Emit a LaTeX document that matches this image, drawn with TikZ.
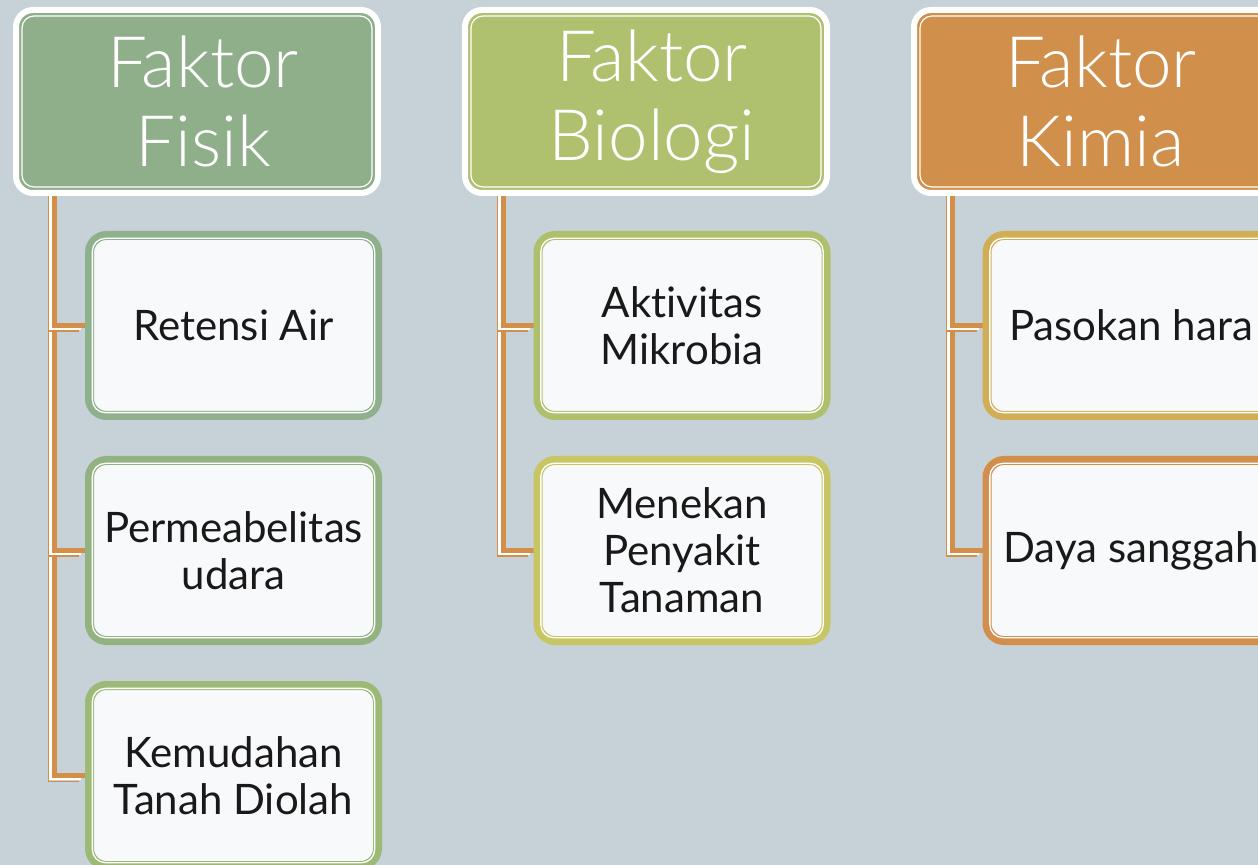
\documentclass[tikz,border=0pt]{standalone}
\usepackage{fontspec}
\setmainfont{Lato}[Ligatures=NoCommon]
\newfontfamily\hdrfont{Lato Light}[Ligatures=NoCommon]
\usetikzlibrary{calc}
\pgfdeclarelayer{bg}
\pgfdeclarelayer{conn}
\pgfsetlayers{bg,conn,main}
\definecolor{bgc}{HTML}{C6D1D8}
\definecolor{hA}{HTML}{8FAF8A}
\definecolor{hB}{HTML}{AFC06E}
\definecolor{hC}{HTML}{D08F4A}
\definecolor{lightfill}{HTML}{F8F9FB}
\definecolor{oc}{HTML}{D38F48}
\definecolor{bA1}{HTML}{8FB08C}
\definecolor{bA2}{HTML}{93B281}
\definecolor{bA3}{HTML}{9CBA75}
\definecolor{bB1}{HTML}{AFC06C}
\definecolor{bB2}{HTML}{C7C662}
\definecolor{bC1}{HTML}{D1AE56}
\definecolor{bC2}{HTML}{D18F4B}
\tikzset{
  hdr/.style={rectangle, rounded corners=8.5pt, minimum width=181pt, minimum height=91.5pt,
    draw=white, line width=3pt, fill=#1, text=white, align=center, inner sep=0pt,
    font=\hdrfont\fontsize{35.5}{39.5}\selectfont},
  childbox/.style={rectangle, rounded corners=8.5pt, minimum width=144pt, minimum height=90pt,
    draw=#1, line width=4.5pt, fill=lightfill, text=black!90, align=center, inner sep=0pt,
    font=\fontsize{21}{23.5}\selectfont},
  hline/.style={draw=white, line width=0.6pt, rounded corners=6pt},
  cline/.style={draw=white, line width=0.65pt, rounded corners=6.5pt},
  conn/.style={draw=oc, line width=2.6pt,
    preaction={draw=oc, line width=0.8pt, transform canvas={xshift=-2.9pt, yshift=-2.9pt}},
    preaction={draw=white, line width=1.3pt, transform canvas={xshift=-1.8pt, yshift=-1.8pt}}}
}
\begin{document}
\begin{tikzpicture}[x=0.5pt, y=-0.5pt]
\begin{pgfonlayer}{bg}
\fill[bgc] (0,0) rectangle (1258,865);
\end{pgfonlayer}
\useasboundingbox (0,0) rectangle (1258,865);
% headers
\node[hdr=hA] (h1) at (197,101.5) {\hspace*{6pt}Faktor\\\hspace*{6pt}Fisik};
\node[hdr=hB] (h2) at (646,101.5) {\hspace*{6pt}Faktor\\\hspace*{6pt}Biologi};
\node[hdr=hC] (h3) at (1095,101.5) {\hspace*{6pt}Faktor\\\hspace*{6pt}Kimia};
\foreach \n in {h1,h2,h3}{
  \draw[hline] ([shift={(4.5pt,-4.5pt)}]\n.north west) rectangle ([shift={(-4.5pt,4.5pt)}]\n.south east);
}
% children
\node[childbox=bA1] (c11) at (233.5,325.5) {Retensi Air};
\node[childbox=bA2] (c12) at (233.5,550.5) {Permeabelitas\\udara};
\node[childbox=bA3] (c13) at (233.5,775.5) {Kemudahan\\Tanah Diolah};
\node[childbox=bB1] (c21) at (682,325.5) {Aktivitas\\Mikrobia};
\node[childbox=bB2] (c22) at (682,550.5) {Menekan\\Penyakit\\Tanaman};
\node[childbox=bC1] (c31) at (1131,325.5) {Pasokan hara};
\node[childbox=bC2] (c32) at (1131,550.5) {Daya sanggah};
\foreach \n in {c11,c12,c13,c21,c22,c31,c32}{
  \draw[cline] ([shift={(3.675pt,-3.675pt)}]\n.north west) rectangle ([shift={(-3.675pt,3.675pt)}]\n.south east);
}
% connectors
\begin{pgfonlayer}{conn}
\draw[conn] ([shift={(20.65pt,3pt)}]h1.south west) |- (c13.west);
\draw[conn] ([shift={(20.65pt,3pt)}]h1.south west) |- (c12.west);
\draw[conn] ([shift={(20.65pt,3pt)}]h1.south west) |- (c11.west);
\draw[conn] ([shift={(20.65pt,3pt)}]h2.south west) |- (c22.west);
\draw[conn] ([shift={(20.65pt,3pt)}]h2.south west) |- (c21.west);
\draw[conn] ([shift={(20.65pt,3pt)}]h3.south west) |- (c32.west);
\draw[conn] ([shift={(20.65pt,3pt)}]h3.south west) |- (c31.west);
\end{pgfonlayer}
\end{tikzpicture}
\end{document}
